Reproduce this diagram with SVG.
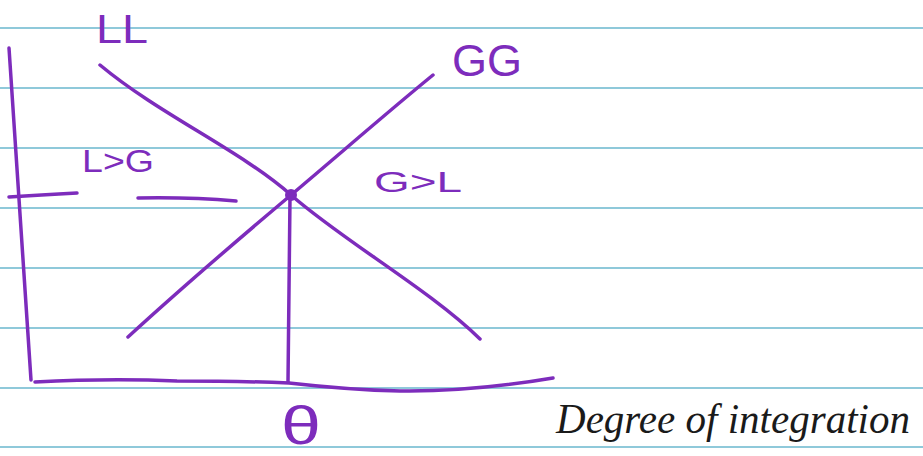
<svg xmlns="http://www.w3.org/2000/svg" width="923" height="456" viewBox="0 0 923 456">
<style>
.rule{stroke:#8fc9da;stroke-width:2;fill:none}
.pen{stroke:#7d2cbc;stroke-width:3.5;fill:none;stroke-linecap:round;stroke-linejoin:round}
.lbl{fill:#7d2cbc;font-family:"Liberation Sans",Arial,sans-serif}
.hand{fill:#1a1a1a;font-family:"Liberation Serif","Times New Roman",serif;font-style:italic}
</style>
<rect width="923" height="456" fill="#ffffff"/>
<g id="paper-rules">
<line class="rule" x1="0" y1="28" x2="923" y2="28"/>
<line class="rule" x1="0" y1="88" x2="923" y2="88"/>
<line class="rule" x1="0" y1="148" x2="923" y2="148"/>
<line class="rule" x1="0" y1="208" x2="923" y2="208"/>
<line class="rule" x1="0" y1="268" x2="923" y2="268"/>
<line class="rule" x1="0" y1="328" x2="923" y2="328"/>
<line class="rule" x1="0" y1="388" x2="923" y2="388"/>
<line class="rule" x1="0" y1="447" x2="923" y2="447"/>
</g>
<g id="axes">
<path class="pen" d="M9,48 Q20,220 31,380"/>
<path class="pen" d="M35,382 Q110,378 177,381 Q240,381 289,383 Q350,390 400,391 Q470,392 553,378"/>
</g>
<g id="connectors">
<path id="LL-curve" class="pen" d="M100,65 C160,115 240,150 291,195 S430,290 480,339"/>
<path id="GG-curve" class="pen" d="M128,337 C190,280 240,238 291,195 S390,110 433,75"/>
<path id="theta-drop" class="pen" stroke-width="2.5" d="M290,197 Q289,300 288,382"/>
<path id="y-tick" class="pen" d="M9,197 Q40,195 77,193"/>
<path id="dash" class="pen" d="M138,198 Q190,197 236,201"/>
</g>
<g id="equilibrium">
<circle cx="291" cy="195" r="6" fill="#7d2cbc"/>
</g>
<g id="label-LL"><text class="lbl" x="96" y="43" font-size="40" textLength="52" lengthAdjust="spacingAndGlyphs">LL</text></g>
<g id="label-GG"><text class="lbl" x="452" y="76" font-size="44" textLength="70" lengthAdjust="spacingAndGlyphs">GG</text></g>
<g id="label-LgtG"><text class="lbl" x="82" y="172" font-size="32" textLength="72" lengthAdjust="spacingAndGlyphs">L&gt;G</text></g>
<g id="label-GgtL"><text class="lbl" x="374" y="192" font-size="30" textLength="88" lengthAdjust="spacingAndGlyphs">G&gt;L</text></g>
<g id="label-theta"><text class="lbl" x="281" y="444" font-size="54" textLength="40" lengthAdjust="spacingAndGlyphs">θ</text></g>
<g id="label-x"><text class="hand" x="556" y="433" font-size="42" textLength="354" lengthAdjust="spacingAndGlyphs">Degree of integration</text></g>
</svg>
